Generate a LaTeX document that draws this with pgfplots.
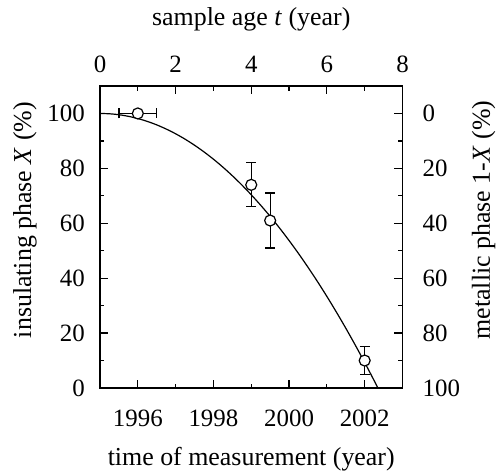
\documentclass[border=0pt]{standalone}
\usepackage{fontspec}
\setmainfont{Liberation Serif}
\usepackage{pgfplots}
\pgfplotsset{compat=1.18}
\pgfplotstableread{
year X
1995.00 100
1995.25 99.88
1995.50 99.54
1995.75 98.96
1996.00 98.15
1996.25 97.11
1996.50 95.84
1996.75 94.33
1997.00 92.60
1997.25 90.63
1997.50 88.43
1997.75 86.00
1998.00 83.34
1998.25 80.45
1998.50 77.32
1998.75 73.97
1999.00 70.38
1999.25 66.56
1999.50 62.52
1999.75 58.24
2000.00 53.72
2000.25 48.98
2000.50 44.00
2000.75 38.80
2001.00 33.36
2001.25 27.69
2001.50 21.79
2001.75 15.66
2002.00 9.30
2002.25 2.70
2002.35 0
}\curvetable
\begin{document}
\begin{tikzpicture}[font=\fontsize{25}{30}\selectfont]
\pgfplotsset{
 common/.style={scale only axis, width=302.5bp, height=302bp,
  axis line style={line width=1.2bp}, tick align=inside,
  major tick length=8bp, minor tick length=4.5bp,
  every tick/.style={line width=1.2bp, black},
  /pgf/number format/assume math mode=true,
  /pgf/number format/set thousands separator={},
  tick label style={inner sep=0pt, font=\fontsize{25}{30}\selectfont},
  label style={font=\fontsize{26}{31}\selectfont}},
 /pgfplots/error bars/ebar/.style={error bar style={line width=1.2bp, black}, error mark=|,
  error mark options={line width=1.2bp, black, mark size=5bp}},
}
\begin{axis}[common, xmin=1995, xmax=2003, ymin=0, ymax=110,
  xtick={1996,1998,2000,2002}, minor xtick={1997,1999,2001},
  ytick={0,20,...,100}, minor ytick={10,30,...,90},
  xtick pos=bottom, ytick pos=left,
  xticklabel shift=22bp, yticklabel shift=15bp,
  xlabel={time of measurement (year)},
  xlabel style={at={(axis description cs:0.5,-0.235)}, anchor=center},
  ylabel={insulating phase \textit{X} (\%)},
  ylabel style={at={(axis description cs:-0.248,0.556)}, anchor=center},
]
\addplot[draw=none, mark=none, error bars/.cd, x dir=both, x explicit, ebar]
  coordinates {(1996,100) +- (0.5,0)};
\addplot[draw=none, mark=none, error bars/.cd, y dir=both, y explicit, ebar]
  coordinates {(1999,74) +- (0,8) (1999.5,61) +- (0,10) (2002,10) +- (0,5)};
\addplot[only marks, mark=*, mark size=5.5bp, mark options={fill=white, draw=black, line width=1.2bp}]
  coordinates {(1996,100) (1999,74) (1999.5,61) (2002,10)};
\addplot[black, line width=1.2bp, no marks, smooth] table[x=year, y=X] {\curvetable};
\end{axis}
\begin{axis}[common, xmin=0, xmax=8, ymin=-10, ymax=100, y dir=reverse,
  axis x line*=top, axis y line*=right,
  xtick={0,2,...,8}, minor xtick={1,3,5,7},
  ytick={0,20,...,100}, minor ytick={10,30,...,90},
  xticklabel shift=13bp, yticklabel shift=20bp,
  xlabel={sample age \textit{t} (year)},
  xlabel style={at={(axis description cs:0.5,1.22)}, anchor=center},
  ylabel={metallic phase 1-\textit{X} (\%)},
  ylabel style={at={(axis description cs:1.268,0.556)}, anchor=center, rotate=0},
]
\end{axis}
\pgfresetboundingbox
\path[use as bounding box] (-100bp,-84bp) rectangle (397bp,388bp);
\end{tikzpicture}
\end{document}
